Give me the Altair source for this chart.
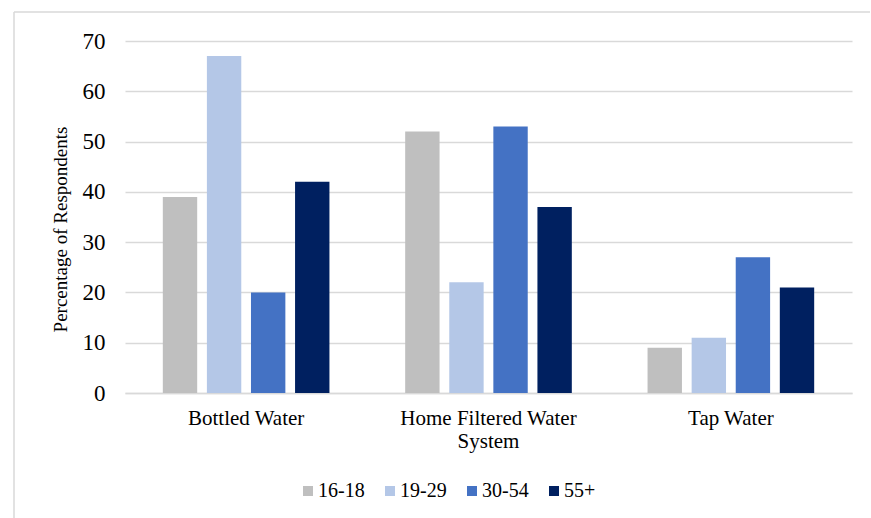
import altair as alt
import pandas as pd

# Preferred drinking-water source by age group
sources = ["Bottled Water", "Home Filtered Water System", "Tap Water"]
age_groups = ["16-18", "19-29", "30-54", "55+"]
pct_16_18 = [39, 52, 9]
pct_19_29 = [67, 22, 11]
pct_30_54 = [20, 53, 27]
pct_55_plus = [42, 37, 21]
colors = ["#BFBFBF", "#B4C7E7", "#4472C4", "#002060"]
y_ticks = [0, 10, 20, 30, 40, 50, 60, 70]

series = [pct_16_18, pct_19_29, pct_30_54, pct_55_plus]
rows = []
for group, vals in zip(age_groups, series):
    for src, v in zip(sources, vals):
        rows.append({"source": src, "age": group, "pct": v})
df = pd.DataFrame(rows)

FONT = "Liberation Serif"
GRID = "#D9D9D9"

bars = alt.Chart(df).mark_bar().encode(
    x=alt.X(
        "source:N",
        sort=sources,
        scale=alt.Scale(paddingInner=0.3125, paddingOuter=0.156),
        axis=alt.Axis(
            title=None,
            labelAngle=0,
            ticks=False,
            domain=True,
            domainColor=GRID,
            domainWidth=1.5,
            labelFontSize=21,
            labelColor="#000000",
            labelPadding=14,
            labelLineHeight=23,
            labelExpr="datum.label == 'Home Filtered Water System' ? ['Home Filtered Water', 'System'] : datum.label",
        ),
    ),
    xOffset=alt.XOffset(
        "age:N",
        sort=age_groups,
        scale=alt.Scale(paddingInner=0.22, paddingOuter=0),
    ),
    y=alt.Y(
        "pct:Q",
        scale=alt.Scale(domain=[0, 70], nice=False),
        axis=alt.Axis(
            title="Percentage of Respondents",
            values=y_ticks,
            ticks=False,
            domain=False,
            grid=True,
            gridColor=GRID,
            gridWidth=1.5,
            labelFontSize=23,
            labelColor="#000000",
            labelPadding=20,
            titleFontSize=19,
            titleFontWeight="normal",
            titleColor="#000000",
            titleAngle=-90,
            titleAlign="center",
            titleBaseline="alphabetic",
            titleX=-59,
            titleY=188,
        ),
    ),
    color=alt.Color(
        "age:N",
        sort=age_groups,
        scale=alt.Scale(domain=age_groups, range=colors),
        legend=alt.Legend(
            title=None,
            orient="none",
            direction="horizontal",
            legendX=173,
            legendY=440,
            symbolType="square",
            symbolSize=100,
            symbolStrokeWidth=0,
            labelFontSize=20,
            labelColor="#000000",
            labelOffset=0,
            columnPadding=15,
        ),
    ),
)

# Light frame around the chart area (top and left edges)
frame_data = alt.Data(values=[{}])
frame_top = alt.Chart(frame_data).mark_rule(color=GRID, strokeWidth=1.5).encode(
    x=alt.value(-111), x2=alt.value(745), y=alt.value(-29)
)
frame_left = alt.Chart(frame_data).mark_rule(color=GRID, strokeWidth=1.5).encode(
    x=alt.value(-111), y=alt.value(-29), y2=alt.value(480)
)

chart = (
    alt.layer(bars, frame_top, frame_left)
    .properties(
        width=727,
        height=352,
        autosize=alt.AutoSizeParams(type="none"),
        padding={"left": 125, "top": 41, "right": 19, "bottom": 125},
        background="white",
    )
    .configure(font=FONT)
    .configure_axis(labelFont=FONT, titleFont=FONT)
    .configure_legend(labelFont=FONT, titleFont=FONT)
    .configure_view(stroke=None)
)

chart.save("out.html", embed_options={"renderer": "svg", "actions": False})
